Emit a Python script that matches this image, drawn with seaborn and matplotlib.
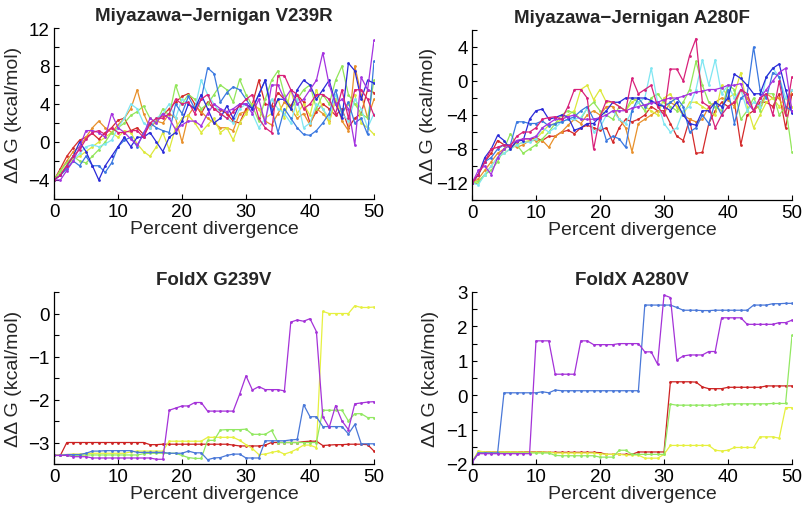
import numpy as np
import pandas as pd
import matplotlib
matplotlib.use("Agg")
import matplotlib.pyplot as plt
import seaborn as sns

# ---------------- data ----------------
x_pct = list(range(0, 51))

# Miyazawa-Jernigan V239R
mj1_red = [-4,-2.8,-1.5,-0.6,0.2,0.5,0.9,0.3,1.0,1.5,2.3,2.5,1.2,1.5,0.8,1.8,2.2,2.8,3.5,4.2,4.8,5.1,4.0,3.0,4.2,3.5,3.4,3.0,2.2,2.0,3.5,4.0,6.5,4.0,3.8,5.2,4.5,3.8,5.0,4.2,2.0,3.2,4.0,3.5,2.8,3.5,1.5,2.5,3.0,5.5,5.2]
mj1_orange = [-4,-3,-2,-1,-0.5,0.5,1.5,2.2,1.5,1.0,1.8,2.5,3.5,5.5,3.0,1.5,2.2,2.0,3.0,2.5,0.0,2.8,3.8,3.2,2.5,2.0,1.5,1.5,1.2,3.0,3.2,4.0,3.5,2.2,1.8,3.0,4.2,3.5,2.5,3.0,1.8,3.5,3.0,2.2,4.5,2.2,1.2,8.0,5.0,2.5,4.5]
mj1_yellow = [-4,-3.2,-2.5,-1.8,-1.5,-1.0,-0.5,0.0,0.5,1.0,0.5,1.2,1.0,-0.2,-1.0,-1.5,-0.5,1.0,-0.8,1.5,2.5,2.8,2.0,1.0,1.8,2.5,1.0,1.5,0.2,2.0,3.0,4.0,3.5,2.5,3.0,4.5,2.5,5.5,3.0,4.0,2.8,5.5,3.5,2.0,4.5,3.0,4.0,5.0,2.0,1.5,0.8]
mj1_green = [-4,-3,-2.2,-1.5,-2,-2.2,-1.5,-0.8,0,1,1.5,2.0,2.8,3.2,3.8,2.5,2.0,3.5,2.8,6.0,4.0,5.0,4.5,3.5,4.0,5.0,6.0,5.5,4.2,6.6,5.0,3.8,2.2,4.5,6.5,7.5,5.0,3.5,4.5,5.5,6.0,3.5,5.0,4.0,6.5,8.0,5.0,4.0,3.0,2.5,6.5]
mj1_cyan = [-4,-3.5,-2.8,-2,-1.2,-0.5,-0.3,-0.5,-0.2,0.2,1.5,2.5,4.0,3.5,2.0,1.5,2.5,3.0,4.0,2.5,4.5,4.0,3.5,6.5,5.0,4.0,3.0,2.5,2.0,3.5,4.0,3.0,1.5,2.5,4.5,3.5,3.0,2.0,4.5,1.5,2.0,4.0,3.5,2.5,5.0,3.0,2.2,4.5,3.5,1.5,3.0]
mj1_blue = [-4,-3.5,-2.8,-2,-2.5,-1.5,-2.5,-2.5,-3.2,-2.2,-0.5,0.2,0.5,-0.5,1.0,2.0,1.5,1.2,1.0,4.0,3.0,4.8,3.5,4.5,7.8,7.2,4.2,5.2,5.8,5.5,4.5,3.5,5.0,6.5,3.5,1.0,3.5,2.5,1.5,0.8,0.7,1.2,2.0,3.0,5.5,3.0,4.2,2.0,2.5,0.8,8.5]
mj1_navy = [-4,-3.5,-2.5,-1.5,0,-1,-2.5,-4,-2.5,-1.5,-0.5,0.5,-0.5,0.5,0.5,1.0,0,-1.0,0.5,1.0,2.2,4.0,3.5,5.0,3.5,2.0,2.5,3.8,2.5,4.0,4.0,3.5,5.0,6.5,3.0,4.5,4.5,3.5,5.5,6.5,6.0,4.5,5.5,6.5,4.0,2.5,8.3,7.5,4.5,6.5,6.2]
mj1_purple = [-4,-4,-3,-2,-0.5,1.2,1.2,1.0,0.5,3.0,1.5,1.0,0.3,-0.3,0.8,2.5,2.0,3.0,2.5,1.3,1.8,2.2,2.2,1.7,3.0,4.0,3.5,3.2,3.5,4.0,4.0,3.0,4.5,2.0,6.0,6.0,4.5,5.5,4.0,4.5,5.5,6.5,9.4,6.0,4.0,4.5,3.5,-0.3,6.8,5.5,10.7]
mj1_pink = [-4,-3.5,-2.5,-1.5,-0.8,0.3,1.0,1.2,0.8,1.5,1.0,1.0,1.2,1.2,0.5,2.0,2.5,2.5,3.0,4.5,4.0,4.2,3.0,4.5,5.0,3.5,3.0,2.5,3.2,3.8,4.5,5.0,2.5,1.5,1.0,7.0,7.0,5.5,5.0,3.5,4.0,5.0,5.0,4.5,3.0,5.5,2.5,5.5,5.5,4.5,2.8]

# Miyazawa-Jernigan A280F
mj2_red = [-12,-11,-9.5,-8.5,-7,-7.5,-7.8,-7.2,-6.8,-6.8,-6.7,-7,-6.5,-6.5,-6,-5.8,-6.2,-5.5,-5.2,-5.5,-5.8,-5.5,-7.2,-5.5,-4.5,-4.8,-4.5,-4,-3,-3.5,-3.5,-5,-6.5,-7,-4.5,-8.5,-8.4,-5,-3.5,-2.5,-3,-2.5,-7.5,-4,-3.5,-2.5,-2.5,-3,-1.5,-5.5,-1.5]
mj2_orange = [-12,-11.5,-10.5,-9.5,-8.5,-8,-7.5,-7.8,-7.5,-7,-7,-7,-7.8,-6.5,-6,-5.2,-4.5,-5,-4,-3.5,-4,-3,-3,-4.5,-5.5,-8.3,-5,-4.5,-4,-3.5,-3.8,-2.5,-3,-4,-4.5,-4.8,-4.5,-3,-2.5,-2,-2.2,-3,-1,-2,-3.5,-2.8,-1.5,-2,-2,-4,-1]
mj2_yellow = [-12,-12,-11,-10,-9,-8.5,-8,-7.5,-7.2,-7,-6.8,-6,-5.2,-5,-4.5,-4,-3.5,-1,-0.5,-2.2,-1,-2.5,-2.5,-3,-3.5,-2.5,-2,-3,-3.5,-4,-2,-1.5,-3,-4,-2.5,-2.5,-3,-3.5,-4,-0.5,-2,-1.5,1,-3,-5.5,-4,-2.5,-2,-3,-2,-3]
mj2_green = [-12,-11.8,-11,-10.5,-9.5,-8,-6.2,-7.5,-8.5,-8,-7.5,-6.8,-6,-5,-4,-3.5,-3.8,-4.5,-3.2,-2.5,-3.5,-4,-4.5,-3,-3.5,-2,-2.5,-3.5,-2,-1.5,-2.5,-3,-3.5,-2.5,-1,2.3,-0.5,-2.5,-3,-3.5,-0.5,-1,-4.5,-3.5,-2,-3.5,-1.5,-1.5,-4,-3,-8.3]
mj2_cyan = [-12,-12.2,-11,-10,-9,-8.5,-8,-7.5,-7.2,-7.2,-6.8,-5.5,-6,-5.5,-4.8,-4.5,-4.5,-4.3,-3.2,-6,-5.5,-4,-3.5,-4.5,-5,-3.5,-2.5,-2,1.5,-2.5,-5,-6,-5.5,-3.5,-3,-1,2.5,-0.5,2.5,-1.5,-0.5,-2,-1,-3.5,-2.5,-3,0.5,1.5,0.5,-2,-1]
mj2_blue = [-12,-11,-9.5,-9,-8,-7.5,-7.5,-4.8,-4.8,-5,-5,-4.7,-5.3,-5,-4.8,-4.5,-4.2,-3.5,-3,-4.5,-4.5,-7,-6.5,-6.8,-7.8,-3.5,-2,-3,-2.5,-2.5,-3,-2.5,-2,-3,-6,-5.5,-4,-5,-2.5,-4,-1,-5,-2,-1.5,4,-1,-2,1,0.5,-3,-3.5]
mj2_navy = [-12,-11,-9,-8,-6.4,-7,-8,-7,-7,-4.5,-3.5,-3.3,-4.5,-4.3,-4,-4.2,-5.8,-5.5,-5,-5,-4.2,-3.5,-2.5,-2.5,-2,-2,-2,-2,-2.3,-2.8,-3,-3.5,-2.5,-4,-5,-5.2,-3.5,-3.5,-2.5,-3,-2,0.8,0.3,-0.5,-1.5,-1.5,0.5,1.5,2,-1,-3.8]
mj2_purple = [-12,-10.5,-10,-11,-9,-8,-7.5,-7,-6.8,-6.8,-6.5,-5.5,-5,-4.5,-4.5,-4.2,-4,-4.5,-4.5,-4.5,-4.3,-4,-3.5,-3.5,-3.5,-3.2,-3,-2.8,-2.6,-2.5,-2.2,-2,-2,-1.8,-1.5,-1.3,-1.2,-1,-1,-0.8,-0.5,-0.5,-0.3,-2.5,-3.5,-2,-1,0,1,1.5,-3.5]
mj2_pink = [-12,-11,-9.5,-8,-7.8,-7.5,-7.6,-6.5,-6,-6,-5.5,-4.5,-4.3,-4.2,-4.5,-3,-1,-1,-2,-8,-4.2,-2.3,-2.5,-3,-3.5,0.3,-1.5,-1,-0.5,-3,-4,1.4,1.4,0,3.0,5,-2.5,-3,-5.5,-4,-3,-2.5,-1,-1.5,-3.5,-2,-1.5,-4,0,-4,0.5]

# FoldX G239V
fx1_red = [-3.3,-3.3,-3.0,-3.0,-3.0,-3.0,-3.0,-3.0,-3.0,-3.0,-3.0,-3.0,-3.0,-3.0,-3.0,-3.05,-3.05,-3.04,-3.04,-3.04,-3.04,-3.04,-3.04,-3.04,-3.04,-3.04,-3.04,-3.04,-3.06,-3.08,-3.08,-3.08,-3.08,-3.06,-3.0,-3.0,-3.0,-3.0,-3.0,-2.98,-2.97,-2.97,-3.07,-3.06,-3.05,-3.05,-3.04,-3.04,-3.04,-3.05,-3.2]
fx1_yellow = [-3.3,-3.28,-3.28,-3.27,-3.27,-3.26,-3.25,-3.25,-3.25,-3.25,-3.25,-3.25,-3.22,-3.2,-3.2,-3.2,-3.2,-3.2,-2.97,-2.97,-2.97,-2.97,-2.97,-2.97,-2.88,-2.88,-2.88,-2.88,-2.88,-2.95,-3.05,-3.14,-3.28,-3.27,-3.23,-3.2,-3.27,-3.22,-3.15,-3.06,-3.06,-3.12,0.05,0.0,0.0,0.0,0.0,0.18,0.14,0.14,0.15]
fx1_green = [-3.3,-3.3,-3.3,-3.3,-3.3,-3.29,-3.29,-3.29,-3.29,-3.29,-3.29,-3.29,-3.29,-3.29,-3.26,-3.25,-3.25,-3.25,-3.25,-3.25,-3.3,-3.35,-3.37,-3.37,-2.95,-2.95,-2.71,-2.7,-2.7,-2.7,-2.69,-2.81,-2.81,-2.81,-2.72,-3.0,-3.0,-3.0,-3.0,-3.0,-3.0,-3.0,-2.25,-2.25,-2.25,-2.25,-2.5,-2.33,-2.33,-2.42,-2.42]
fx1_blue = [-3.3,-3.3,-3.28,-3.28,-3.28,-3.25,-3.2,-3.2,-3.19,-3.19,-3.19,-3.19,-3.19,-3.23,-3.23,-3.23,-3.23,-3.23,-3.25,-3.25,-3.25,-3.2,-3.24,-3.24,-3.4,-3.36,-3.35,-3.3,-3.27,-3.27,-3.36,-3.36,-3.36,-2.96,-2.96,-2.96,-2.96,-2.94,-2.93,-2.12,-2.4,-2.4,-2.63,-2.63,-2.63,-2.63,-2.8,-2.58,-3.03,-3.03,-3.03]
fx1_purple = [-3.3,-3.3,-3.3,-3.33,-3.33,-3.33,-3.36,-3.36,-3.36,-3.36,-3.36,-3.36,-3.36,-3.36,-3.36,-3.36,-3.39,-3.39,-2.25,-2.2,-2.15,-2.15,-2.07,-2.07,-2.27,-2.27,-2.27,-2.27,-2.27,-1.88,-1.45,-1.78,-1.7,-1.77,-1.77,-1.77,-1.8,-0.2,-0.15,-0.18,-0.12,-0.42,-2.4,-2.65,-2.14,-2.5,-2.7,-2.1,-2.08,-2.06,-2.05]

# FoldX A280V
fx2_red = [-1.95,-1.65,-1.65,-1.65,-1.65,-1.65,-1.65,-1.65,-1.65,-1.65,-1.65,-1.65,-1.66,-1.66,-1.66,-1.66,-1.66,-1.66,-1.66,-1.66,-1.67,-1.72,-1.72,-1.72,-1.72,-1.72,-1.65,-1.65,-1.65,-1.65,-1.65,0.39,0.39,0.39,0.39,0.38,0.24,0.19,0.19,0.19,0.23,0.23,0.23,0.23,0.23,0.23,0.27,0.27,0.27,0.27,0.27]
fx2_yellow = [-1.95,-1.62,-1.65,-1.65,-1.65,-1.65,-1.65,-1.65,-1.66,-1.66,-1.66,-1.66,-1.66,-1.68,-1.68,-1.68,-1.68,-1.68,-1.68,-1.68,-1.7,-1.72,-1.72,-1.72,-1.74,-1.74,-1.74,-1.83,-1.83,-1.83,-1.72,-1.46,-1.46,-1.46,-1.46,-1.46,-1.46,-1.46,-1.6,-1.62,-1.6,-1.52,-1.52,-1.52,-1.52,-1.21,-1.21,-1.21,-1.25,-0.36,-0.36]
fx2_green = [-1.95,-1.68,-1.68,-1.68,-1.68,-1.68,-1.68,-1.68,-1.68,-1.68,-1.68,-1.68,-1.68,-1.75,-1.76,-1.76,-1.76,-1.76,-1.76,-1.76,-1.8,-1.8,-1.8,-1.6,-1.6,-1.72,-1.72,-1.72,-1.72,-1.72,-1.72,-0.26,-0.29,-0.29,-0.29,-0.29,-0.29,-0.29,-0.29,-0.27,-0.25,-0.25,-0.25,-0.25,-0.25,-0.25,-0.25,-0.24,-0.24,-0.24,1.74]
fx2_blue = [-1.95,-1.68,-1.68,-1.68,-1.68,0.07,0.07,0.07,0.07,0.07,0.07,0.1,0.07,0.15,0.13,0.13,0.13,0.13,0.13,0.13,0.13,0.13,0.13,0.13,0.13,0.13,0.13,2.62,2.62,2.62,2.62,2.62,2.55,2.47,2.47,2.47,2.46,2.46,2.47,2.47,2.47,2.47,2.47,2.47,2.62,2.62,2.62,2.66,2.66,2.67,2.67]
fx2_purple = [-1.95,-1.7,-1.7,-1.7,-1.7,-1.7,-1.7,-1.7,-1.7,-1.7,1.58,1.58,1.58,0.61,0.61,0.61,0.61,1.58,1.58,1.47,1.47,1.47,1.47,1.5,1.5,1.5,1.5,1.26,1.26,0.9,2.91,2.84,1.02,1.14,1.17,1.17,1.17,1.27,1.27,2.25,2.25,2.25,2.25,2.06,2.06,2.06,2.06,2.06,2.11,2.11,2.18]

# ---------------- colours ----------------
mj_colors = {"red": "#d42a2a", "orange": "#e8902a", "yellow": "#dde83a",
             "green": "#92e65a", "cyan": "#7fe6f2", "blue": "#3a78e0",
             "navy": "#2a2ad8", "purple": "#a432e0", "pink": "#d8207a"}
fx_colors = {"red": "#cc2222", "yellow": "#e6f040", "green": "#92e862",
             "blue": "#4a78d8", "purple": "#a432d8"}

panels = [
    ("Miyazawa\u2212Jernigan V239R",
     {"red": mj1_red, "orange": mj1_orange, "yellow": mj1_yellow, "green": mj1_green,
      "cyan": mj1_cyan, "blue": mj1_blue, "navy": mj1_navy, "purple": mj1_purple,
      "pink": mj1_pink}, mj_colors, (-6, 12), 2, 4),
    ("Miyazawa\u2212Jernigan A280F",
     {"red": mj2_red, "orange": mj2_orange, "yellow": mj2_yellow, "green": mj2_green,
      "cyan": mj2_cyan, "blue": mj2_blue, "navy": mj2_navy, "purple": mj2_purple,
      "pink": mj2_pink}, mj_colors, (-14, 6), 2, 4),
    ("FoldX G239V",
     {"red": fx1_red, "yellow": fx1_yellow, "green": fx1_green, "blue": fx1_blue,
      "purple": fx1_purple}, fx_colors, (-3.5, 0.5), 0.5, 1),
    ("FoldX A280V",
     {"red": fx2_red, "yellow": fx2_yellow, "green": fx2_green, "blue": fx2_blue,
      "purple": fx2_purple}, fx_colors, (-2, 3), 0.5, 1),
]

# ---------------- figure ----------------
sns.set_style("ticks")
plt.rcParams['font.family'] = ['Liberation Sans', 'DejaVu Sans']
plt.rcParams['axes.unicode_minus'] = True

fig = plt.figure(figsize=(8.05, 5.10), dpi=100)
boxes = [
    [54/805, 1-200/510, 320/805, 171/510],
    [472/805, 1-201/510, 320/805, 170/510],
    [54/805, 1-465/510, 320/805, 172/510],
    [472/805, 1-465/510, 320/805, 172/510],
]
label_x = [-0.100, -0.110, -0.100, -0.104]

for i, (title, series, cols, ylim, ystep, ylab) in enumerate(panels):
    ax = fig.add_axes(boxes[i])
    rows = []
    for name, vals in series.items():
        for xv, yv in zip(x_pct, vals):
            rows.append((name, xv, yv))
    df = pd.DataFrame(rows, columns=["series", "x", "y"])
    sns.lineplot(data=df, x="x", y="y", hue="series", palette=cols,
                 hue_order=list(series.keys()), estimator=None, sort=False,
                 marker="o", markersize=2.0, markeredgewidth=0, linewidth=0.9,
                 legend=False, ax=ax)
    ax.set_xlim(0, 50)
    ax.set_ylim(*ylim)
    ax.set_xticks([0, 10, 20, 30, 40, 50])
    ax.set_xticklabels(["0", "10", "20", "30", "40", "50"])
    ticks = np.arange(ylim[0], ylim[1] + 1e-9, ystep)
    ax.set_yticks(ticks)
    labs = []
    for t in ticks:
        if abs(t / ylab - round(t / ylab)) < 1e-6 and not (i == 0 and abs(t - ylim[0]) < 1e-6):
            labs.append(("%g" % t).replace("-", "\u2212"))
        else:
            labs.append("")
    ax.set_yticklabels(labs)
    ax.tick_params(direction="in", length=3.5, width=0.8, labelsize=13.5, pad=3,
                   colors="black")
    for s in ["top", "right"]:
        ax.spines[s].set_visible(False)
    for s in ["left", "bottom"]:
        ax.spines[s].set_linewidth(0.9)
        ax.spines[s].set_color("black")
    ax.set_xlabel("Percent divergence", fontsize=14, labelpad=0)
    ax.set_ylabel("\u0394\u0394 G (kcal/mol)", fontsize=14)
    ax.yaxis.set_label_coords(label_x[i], 0.5)
    ax.set_title(title, fontsize=13.5, fontweight="bold", pad=6)

fig.savefig("out.png", dpi=100)
